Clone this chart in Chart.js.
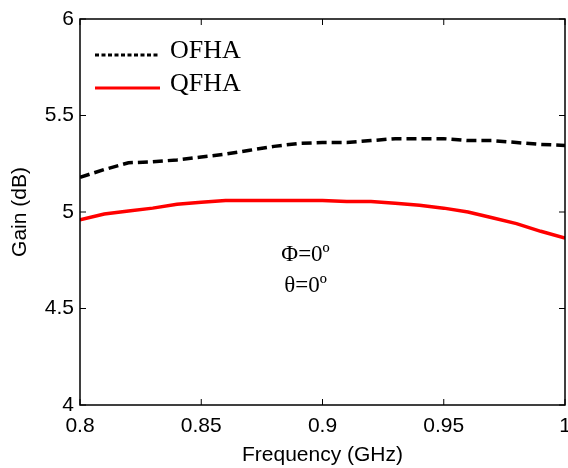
<!DOCTYPE html>
<html>
<head>
<meta charset="utf-8">
<script src="https://cdn.jsdelivr.net/npm/chart.js@4.4.0/dist/chart.umd.min.js"></script>
<style>
  html, body { margin: 0; padding: 0; background: #fff; }
  #wrap { width: 568px; height: 468px; }
</style>
</head>
<body>
<div id="wrap"><canvas id="chart" width="568" height="468"></canvas></div>
<script>
// data
const freqs = [0.80, 0.81, 0.82, 0.83, 0.84, 0.85, 0.86, 0.87, 0.88, 0.89, 0.90,
  0.91, 0.92, 0.93, 0.94, 0.95, 0.96, 0.97, 0.98, 0.99, 1.00];
const ofha = [5.18, 5.22, 5.255, 5.26, 5.27, 5.285, 5.30, 5.32, 5.34, 5.355, 5.36,
  5.36, 5.37, 5.38, 5.38, 5.38, 5.37, 5.37, 5.36, 5.35, 5.345];
const qfha = [4.96, 4.99, 5.005, 5.02, 5.04, 5.05, 5.06, 5.06, 5.06, 5.06, 5.06,
  5.055, 5.055, 5.045, 5.035, 5.02, 5.00, 4.97, 4.94, 4.90, 4.865];
const xTicks = [0.8, 0.85, 0.9, 0.95, 1];
const yTicks = [4, 4.5, 5, 5.5, 6];
const annotLines = ["\u03A6=0\u00BA", "\u03B8=0\u00BA"];

const toPoints = (ys) => freqs.map((f, i) => ({ x: f, y: ys[i] }));

// frame, inward ticks, legend and annotation
const decor = {
  id: "decor",
  afterDraw: (chart) => {
    const { ctx, chartArea: a, scales } = chart;
    ctx.save();
    ctx.strokeStyle = "#000";
    ctx.lineWidth = 1.5;
    ctx.strokeRect(a.left, a.top, a.right - a.left, a.bottom - a.top);
    ctx.lineWidth = 1;
    xTicks.forEach((t) => {
      const px = scales.x.getPixelForValue(t);
      ctx.beginPath();
      ctx.moveTo(px, a.bottom); ctx.lineTo(px, a.bottom - 6);
      ctx.moveTo(px, a.top); ctx.lineTo(px, a.top + 6);
      ctx.stroke();
    });
    yTicks.forEach((t) => {
      const py = scales.y.getPixelForValue(t);
      ctx.beginPath();
      ctx.moveTo(a.left, py); ctx.lineTo(a.left + 6, py);
      ctx.moveTo(a.right, py); ctx.lineTo(a.right - 6, py);
      ctx.stroke();
    });

    // legend
    const ds = chart.data.datasets;
    const rows = [55, 88];
    ds.forEach((d, i) => {
      ctx.beginPath();
      ctx.strokeStyle = d.borderColor;
      ctx.lineWidth = 3;
      ctx.setLineDash(i === 0 ? [4, 2.5] : []);
      ctx.moveTo(95, rows[i]); ctx.lineTo(160, rows[i]);
      ctx.stroke();
      ctx.setLineDash([]);
      ctx.fillStyle = "#000";
      ctx.font = "26px 'Liberation Serif', 'Times New Roman', serif";
      ctx.textAlign = "left";
      ctx.textBaseline = "middle";
      ctx.fillText(d.label, 170, rows[i] - 4);
    });

    // annotation
    ctx.font = "23px 'Liberation Serif', 'Times New Roman', serif";
    ctx.textAlign = "center";
    ctx.fillStyle = "#000";
    const cx = scales.x.getPixelForValue(0.893);
    annotLines.forEach((s, i) => {
      ctx.fillText(s, cx, 255 + i * 31);
    });
    ctx.restore();
  },
};

const tickFont = { family: "'Liberation Sans', Arial, sans-serif", size: 21 };

new Chart(document.querySelector("#chart").getContext("2d"), {
  type: "line",
  data: {
    datasets: [
      {
        label: "OFHA",
        data: toPoints(ofha),
        borderColor: "#000",
        borderWidth: 3.5,
        borderDash: [10, 5],
        pointRadius: 0,
        tension: 0,
      },
      {
        label: "QFHA",
        data: toPoints(qfha),
        borderColor: "#ff0000",
        borderWidth: 3.5,
        pointRadius: 0,
        tension: 0,
      },
    ],
  },
  options: {
    responsive: false,
    animation: false,
    layout: { padding: { left: 0, right: 3, top: 19, bottom: 0 } },
    plugins: { legend: { display: false }, tooltip: { enabled: false } },
    scales: {
      x: {
        type: "linear",
        min: 0.8,
        max: 1,
        afterBuildTicks: (s) => { s.ticks = xTicks.map((v) => ({ value: v })); },
        afterFit: (s) => { s.height = 63; s.paddingLeft = 0; s.paddingRight = 0; },
        grid: { display: false, drawTicks: false },
        border: { display: false },
        ticks: {
          color: "#000",
          font: tickFont,
          padding: 9,
          maxRotation: 0,
          autoSkip: false,
          callback: (v) => String(v),
        },
        title: {
          display: true,
          text: "Frequency (GHz)",
          color: "#000",
          font: tickFont,
          padding: { top: 0, bottom: 0 },
        },
      },
      y: {
        min: 4,
        max: 6,
        afterBuildTicks: (s) => { s.ticks = yTicks.map((v) => ({ value: v })); },
        afterFit: (s) => { s.width = 80; s.paddingTop = 0; s.paddingBottom = 0; },
        grid: { display: false, drawTicks: false },
        border: { display: false },
        ticks: {
          color: "#000",
          font: tickFont,
          padding: 6,
          autoSkip: false,
          callback: (v) => String(v),
        },
        title: {
          display: true,
          text: "Gain (dB)",
          color: "#000",
          font: tickFont,
          padding: { top: 8, bottom: 0 },
        },
      },
    },
  },
  plugins: [decor],
});
</script>
</body>
</html>
